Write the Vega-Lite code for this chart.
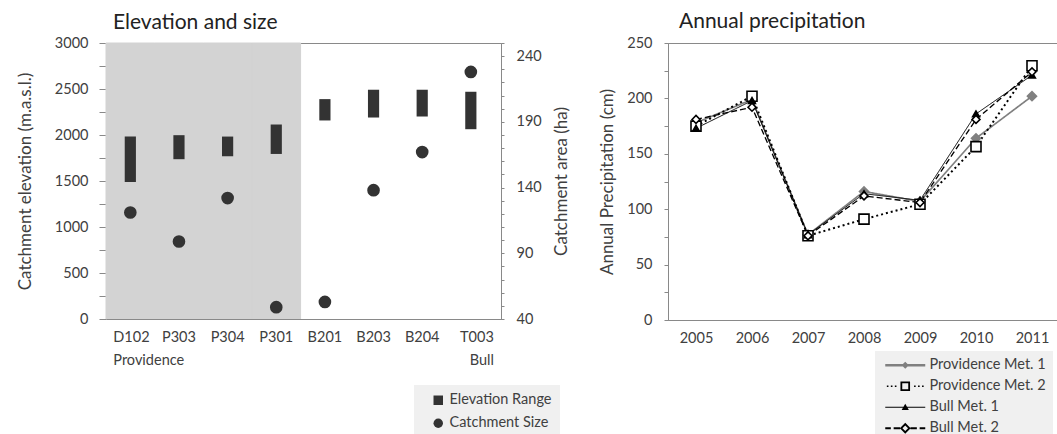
{
  "$schema": "https://vega.github.io/schema/vega-lite/v6.json",
  "padding": {"left": 15, "top": 10, "right": 0, "bottom": 0},
  "spacing": 28,
  "resolve": {"scale": {"shape": "independent", "color": "independent", "fill": "independent", "stroke": "independent", "size": "independent", "opacity": "independent"}, "legend": {"shape": "independent", "fill": "independent"}},
  "config": {
    "font": "Lato",
    "view": {"stroke": "#898989", "strokeWidth": 1},
    "axis": {
      "labelFont": "Lato", "labelFontSize": 14.5, "labelColor": "#404040",
      "titleFont": "Lato", "titleFontSize": 17, "titleFontWeight": "normal", "titleColor": "#404040",
      "domainColor": "#898989", "tickColor": "#898989", "grid": false
    },
    "title": {"font": "Lato", "fontSize": 21, "fontWeight": "normal", "color": "#222222", "anchor": "start", "frame": "group"},
    "legend": {"labelFont": "Lato", "labelFontSize": 14.5, "labelColor": "#404040"}
  },
  "hconcat": [
    {
      "title": {"text": "Elevation and size", "dx": 7, "offset": 2},
      "width": 395,
      "height": 276,
      "data": {"values": [
        {"site": "D102", "emin": 1490, "emax": 1983, "area": 121},
        {"site": "P303", "emin": 1737, "emax": 1998, "area": 99},
        {"site": "P304", "emin": 1769, "emax": 1983, "area": 132},
        {"site": "P301", "emin": 1794, "emax": 2114, "area": 49},
        {"site": "B201", "emin": 2158, "emax": 2390, "area": 53},
        {"site": "B203", "emin": 2190, "emax": 2492, "area": 138},
        {"site": "B204", "emin": 2201, "emax": 2492, "area": 167},
        {"site": "T003", "emin": 2063, "emax": 2470, "area": 228}
      ]},
      "resolve": {"scale": {"y": "independent"}},
      "layer": [
        {
          "data": {"values": [{"site": "D102"}, {"site": "P303"}, {"site": "P304"}, {"site": "P301"}]},
          "mark": {"type": "rect", "color": "#d3d3d3", "stroke": "#d3d3d3", "strokeWidth": 1},
          "encoding": {
            "x": {"field": "site", "type": "nominal", "sort": null,
                  "scale": {"domain": ["D102", "P303", "P304", "P301", "B201", "B203", "B204", "T003"], "paddingInner": 0, "paddingOuter": 0.06, "align": 0},
                  "axis": {
                    "title": null, "ticks": false, "labelAngle": 0, "labelPadding": 11, "labelLineHeight": 23,
                    "labelExpr": "datum.value == 'D102' ? ['D102', 'Providence'] : datum.value == 'T003' ? ['T003', 'Bull'] : datum.value",
                    "labelAlign": {"condition": [{"test": "datum.value == 'D102'", "value": "left"}, {"test": "datum.value == 'T003'", "value": "right"}], "value": "center"},
                    "labelOffset": {"condition": [{"test": "datum.value == 'D102'", "value": -17}, {"test": "datum.value == 'T003'", "value": 23}], "value": 0}
                  }},
            "y": {"datum": 0, "type": "quantitative", "scale": {"domain": [0, 3000]}, "axis": null},
            "y2": {"datum": 3000}
          }
        },
        {
          "mark": {"type": "bar", "color": "#333333", "width": {"band": 0.23}},
          "encoding": {
            "x": {"field": "site", "type": "nominal", "sort": null},
            "y": {"field": "emin", "type": "quantitative", "scale": {"domain": [0, 3000]},
                  "axis": {"orient": "left", "title": "Catchment elevation (m.a.s.l.)", "values": [0, 250, 500, 750, 1000, 1250, 1500, 1750, 2000, 2250, 2500, 2750, 3000],
                           "labelExpr": "datum.value % 500 == 0 ? datum.label : ''", "format": "d", "tickSize": 7, "labelPadding": 11, "titlePadding": 20}},
            "y2": {"field": "emax"}
          }
        },
        {
          "mark": {"type": "point", "filled": true, "color": "#333333", "size": 160, "opacity": 1},
          "encoding": {
            "x": {"field": "site", "type": "nominal", "sort": null},
            "y": {"field": "area", "type": "quantitative", "scale": {"domain": [40, 250]},
                  "axis": {"orient": "right", "title": "Catchment area (ha)", "titleAngle": 270, "titleBaseline": "top",
                           "values": [40, 50, 60, 70, 80, 90, 100, 110, 120, 130, 140, 150, 160, 170, 180, 190, 200, 210, 220, 230, 240, 250],
                           "labelExpr": "(datum.value - 40) % 50 == 0 ? datum.label : ''", "tickSize": 3, "labelPadding": 12, "titlePadding": 12}},
            "shape": {"datum": "Catchment Size", "type": "nominal",
                      "scale": {"domain": ["Elevation Range", "Catchment Size"], "range": ["square", "circle"]},
                      "legend": {"title": null, "orient": "none", "legendX": 308, "legendY": 342, "fillColor": "#f0f0f0",
                                 "padding": 8, "symbolOffset": 9, "symbolSize": 90, "symbolFillColor": "#333333", "symbolStrokeWidth": 0,
                                 "labelOffset": 4, "rowPadding": 8, "labelFontSize": 14.5}}
          }
        }
      ]
    },
    {
      "title": {"text": "Annual precipitation", "dx": 11, "offset": 3},
      "width": 392,
      "height": 277,
      "data": {"values": [
        {"year": "2005", "series": "Providence Met. 1", "value": 178},
        {"year": "2006", "series": "Providence Met. 1", "value": 199},
        {"year": "2007", "series": "Providence Met. 1", "value": 77},
        {"year": "2008", "series": "Providence Met. 1", "value": 116},
        {"year": "2009", "series": "Providence Met. 1", "value": 107},
        {"year": "2010", "series": "Providence Met. 1", "value": 164},
        {"year": "2011", "series": "Providence Met. 1", "value": 202},
        {"year": "2005", "series": "Providence Met. 2", "value": 175},
        {"year": "2006", "series": "Providence Met. 2", "value": 202},
        {"year": "2007", "series": "Providence Met. 2", "value": 76},
        {"year": "2008", "series": "Providence Met. 2", "value": 91},
        {"year": "2009", "series": "Providence Met. 2", "value": 104.5},
        {"year": "2010", "series": "Providence Met. 2", "value": 156.5},
        {"year": "2011", "series": "Providence Met. 2", "value": 229.5},
        {"year": "2005", "series": "Bull Met. 1", "value": 173},
        {"year": "2006", "series": "Bull Met. 1", "value": 198},
        {"year": "2007", "series": "Bull Met. 1", "value": 77},
        {"year": "2008", "series": "Bull Met. 1", "value": 114},
        {"year": "2009", "series": "Bull Met. 1", "value": 108},
        {"year": "2010", "series": "Bull Met. 1", "value": 186},
        {"year": "2011", "series": "Bull Met. 1", "value": 221},
        {"year": "2005", "series": "Bull Met. 2", "value": 181},
        {"year": "2006", "series": "Bull Met. 2", "value": 192},
        {"year": "2007", "series": "Bull Met. 2", "value": 76},
        {"year": "2008", "series": "Bull Met. 2", "value": 112},
        {"year": "2009", "series": "Bull Met. 2", "value": 106},
        {"year": "2010", "series": "Bull Met. 2", "value": 181},
        {"year": "2011", "series": "Bull Met. 2", "value": 224}
      ]},
      "encoding": {
        "x": {"field": "year", "type": "ordinal", "scale": {"type": "point", "padding": 0.5},
              "axis": {"title": null, "ticks": false, "labelAngle": 0, "labelPadding": 11}},
        "y": {"field": "value", "type": "quantitative", "scale": {"domain": [0, 250]},
              "axis": {"title": "Annual Precipitation (cm)", "values": [0, 25, 50, 75, 100, 125, 150, 175, 200, 225, 250],
                       "labelExpr": "datum.value % 50 == 0 ? datum.label : ''", "tickSize": 4, "labelPadding": 12, "titlePadding": 10}}
      },
      "resolve": {"scale": {"shape": "independent", "fill": "independent"}, "legend": {"shape": "independent", "fill": "independent"}},
      "layer": [
        {
          "mark": {"type": "line"},
          "encoding": {
            "stroke": {"field": "series", "type": "nominal",
                       "scale": {"range": ["#000000", "#000000", "#808080", "#000000"]},
                       "legend": null},
            "strokeDash": {"field": "series", "type": "nominal",
                           "scale": {"range": [[1, 0], [6, 3], [1, 0], [2, 3]]},
                           "legend": null},
            "strokeWidth": {"field": "series", "type": "nominal",
                            "scale": {"range": [1, 2, 2.5, 1.6]},
                            "legend": null}
          }
        },
        {
          "mark": {"type": "point", "strokeWidth": 1.6, "opacity": 1},
          "encoding": {
            "stroke": {"field": "series", "type": "nominal", "legend": null},
            "fill": {"field": "series", "type": "nominal",
                     "scale": {"range": ["#000000", "#ffffff", "#808080", "#ffffff"]},
                     "legend": null},
            "size": {"field": "series", "type": "nominal",
                     "scale": {"range": [45, 100, 70, 120]},
                     "legend": null},
            "shape": {"field": "series", "type": "nominal",
                      "scale": {"range": ["triangle-up", "diamond", "diamond", "square"]},
                      "legend": null}
          }
        },
        {
          "mark": {"type": "point", "filled": true, "opacity": 0, "size": 64, "strokeWidth": 0},
          "encoding": {
            "fill": {"field": "series", "type": "nominal",
                     "scale": {"domain": ["Providence Met. 1", "Providence Met. 2", "Bull Met. 1", "Bull Met. 2"], "range": ["#808080", "#000000", "#000000", "#000000"]}},
            "shape": {"field": "series", "type": "nominal",
                      "scale": {"domain": ["Providence Met. 1", "Providence Met. 2", "Bull Met. 1", "Bull Met. 2"],
                                "range": [
                                  "M-1,-0.3H9V0.3H-1Z M4,-0.9L4.9,0L4,0.9L3.1,0Z",
                                  "M-0.6,-0.2H-0.2V0.2H-0.6Z M0.4,-0.2H0.8V0.2H0.4Z M1.4,-0.2H1.8V0.2H1.4Z M2.8,-1.2H5.2V1.2H2.8Z M3.25,-0.75V0.75H4.75V-0.75Z M6.2,-0.2H6.6V0.2H6.2Z M7.2,-0.2H7.6V0.2H7.2Z M8.2,-0.2H8.6V0.2H8.2Z",
                                  "M-1,-0.13H9V0.13H-1Z M4,-0.9L4.9,0.7L3.1,0.7Z",
                                  "M-1,-0.28H0.4V0.28H-1Z M1.1,-0.28H2.7V0.28H1.1Z M4,-1.35L5.35,0L4,1.35L2.65,0Z M4,-0.7L3.3,0L4,0.7L4.7,0Z M5.3,-0.28H6.9V0.28H5.3Z M7.6,-0.28H9V0.28H7.6Z"
                                ]},
                      "legend": {
                        "title": null, "orient": "none", "legendX": 207, "legendY": 308, "fillColor": "#f0f0f0",
                        "padding": 7, "symbolSize": 64, "labelOffset": 33, "rowPadding": 6, "labelFontSize": 14.5,
                        "symbolStrokeWidth": 0, "symbolOpacity": 1
                      }}
          }
        }
      ]
    }
  ]
}
